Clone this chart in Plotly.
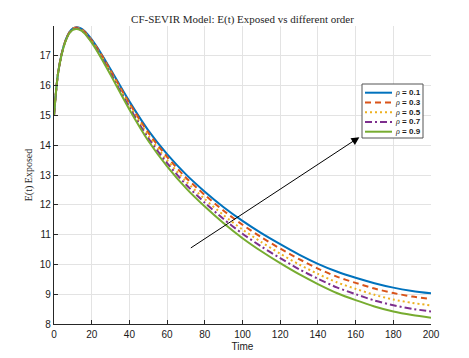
import plotly.graph_objects as go

# time points (days)
t = [0, 2, 4, 6, 8, 10, 12, 14, 16, 20, 25, 30, 40, 50, 60, 70, 80, 90,
     100, 110, 120, 130, 140, 150, 160, 170, 180, 190, 200]

# E(t) for each fractional order
e_01 = [15.0, 16.35, 17.05, 17.5, 17.78, 17.92, 17.96, 17.93, 17.84, 17.55, 17.08, 16.55,
        15.47, 14.5, 13.7, 13.02, 12.44, 11.92, 11.46, 11.05, 10.68, 10.33, 10.02,
        9.76, 9.55, 9.37, 9.22, 9.11, 9.03]
e_03 = [15.0, 16.35, 17.05, 17.49, 17.77, 17.91, 17.95, 17.91, 17.82, 17.52, 17.05, 16.51,
        15.41, 14.42, 13.61, 12.91, 12.33, 11.8, 11.33, 10.91, 10.53, 10.18, 9.86,
        9.59, 9.38, 9.19, 9.04, 8.92, 8.84]
e_05 = [15.0, 16.34, 17.04, 17.49, 17.76, 17.9, 17.93, 17.9, 17.8, 17.5, 17.0, 16.46,
        15.34, 14.33, 13.5, 12.79, 12.19, 11.65, 11.17, 10.75, 10.36, 10.0, 9.68,
        9.4, 9.18, 8.98, 8.82, 8.71, 8.62]
e_07 = [15.0, 16.34, 17.04, 17.48, 17.75, 17.88, 17.92, 17.88, 17.78, 17.47, 16.97, 16.41,
        15.27, 14.24, 13.4, 12.68, 12.07, 11.52, 11.03, 10.6, 10.21, 9.84, 9.52,
        9.23, 9.0, 8.79, 8.63, 8.51, 8.42]
e_09 = [15.0, 16.34, 17.03, 17.47, 17.74, 17.87, 17.9, 17.86, 17.76, 17.44, 16.93, 16.36,
        15.2, 14.15, 13.29, 12.56, 11.94, 11.38, 10.88, 10.44, 10.04, 9.67, 9.34,
        9.04, 8.8, 8.59, 8.42, 8.3, 8.21]

names = ['0.1', '0.3', '0.5', '0.7', '0.9']
series = [e_01, e_03, e_05, e_07, e_09]
colors = ['#0072BD', '#D95319', '#EDB120', '#7E2F8E', '#77AC30']
dashes = ['solid', '6px,4px', '2px,3px', '7px,3px,2px,3px', 'solid']

x_ticks = list(range(0, 201, 20))
y_ticks = list(range(8, 18))

fig = go.Figure()
for name, y, c, d in zip(names, series, colors, dashes):
    fig.add_trace(go.Scatter(x=t, y=y, mode='lines', name=name,
                             line=dict(color=c, width=2, dash=d, shape='spline', smoothing=0.8),
                             showlegend=False))

axis_common = dict(showgrid=True, gridcolor='#e3e3e3', gridwidth=1,
                   showline=True, linecolor='#262626', linewidth=1.2,
                   ticks='inside', ticklen=4, tickcolor='#262626', tickwidth=1,
                   tickfont=dict(family='Liberation Sans, Arial', size=10, color='#1a1a1a'),
                   zeroline=False, mirror=False, automargin=False)

fig.update_xaxes(range=[0, 200], tickvals=x_ticks, ticklabelstandoff=1, **axis_common,
                 title=dict(text='Time', standoff=3,
                            font=dict(family='Liberation Sans, Arial', size=10, color='#1a1a1a')))
fig.update_yaxes(range=[8, 18], tickvals=y_ticks, **axis_common,
                 title=dict(text='E(t) Exposed', standoff=5,
                            font=dict(family='Liberation Serif, Times New Roman', size=10, color='#262626')))

# custom compact legend box (MATLAB style)
lx0, lx1, ly0, ly1 = 362, 423, 84, 138
W, H = 469, 358
ml, mr, mt, mb = 54, 38, 26, 34
pw, ph = W - ml - mr, H - mt - mb

def px(x):
    return (x - ml) / pw

def py(y):
    return 1 - (y - mt) / ph

fig.add_shape(type='rect', xref='paper', yref='paper',
              x0=px(lx0), x1=px(lx1), y0=py(ly1), y1=py(ly0),
              line=dict(color='#555555', width=1), fillcolor='white', layer='above')
for i, (name, c, d) in enumerate(zip(names, colors, dashes)):
    yy = 92.7 + i * 9.75
    fig.add_shape(type='line', xref='paper', yref='paper',
                  x0=px(365), x1=px(392), y0=py(yy), y1=py(yy),
                  line=dict(color=c, width=2, dash=d), layer='above')
    fig.add_annotation(xref='paper', yref='paper', x=px(393), y=py(yy),
                       xanchor='left', yanchor='middle', showarrow=False,
                       text="<span style='font-family:Liberation Serif'><i>ρ</i></span><b> = " + name + "</b>",
                       font=dict(family='Liberation Sans, Arial', size=8, color='#1a1a1a'))

# arrow showing increasing order
fig.add_annotation(x=162, y=14.27, ax=71.8, ay=10.52, xref='x', yref='y', axref='x', ayref='y',
                   text='', showarrow=True, arrowhead=2, arrowsize=1.6, arrowwidth=1,
                   arrowcolor='black')

fig.update_layout(
    width=W, height=H,
    margin=dict(l=ml, r=mr, t=mt, b=mb, autoexpand=False),
    paper_bgcolor='white', plot_bgcolor='white',
    title=dict(text='CF-SEVIR Model: E(t) Exposed vs different order',
               x=(ml + pw / 2) / W, xanchor='center', y=1 - 19 / H, yanchor='middle',
               font=dict(family='Liberation Serif, Times New Roman', size=11, color='#262626')),
)

fig.write_html('out.html', config={'displayModeBar': False},
               post_script="document.body.style.margin='0';")
